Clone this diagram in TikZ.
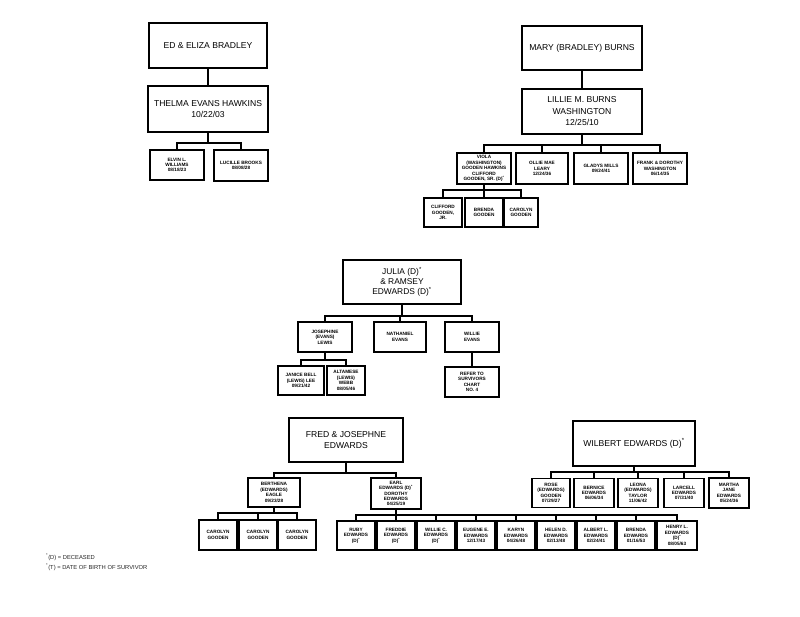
\documentclass[tikz,border=0pt]{standalone}
\usepackage{fontspec}
\setmainfont{Liberation Sans}
\begin{document}
\begin{tikzpicture}[x=1pt,y=-1pt,
  bx/.style={draw=black, line width=1.5pt, fill=white, inner sep=0pt, align=center, text=black},
  big/.style={bx, font=\fontsize{8.6}{11.5}\selectfont},
  mid/.style={bx, font=\fontsize{8.4}{10}\selectfont},
  sm/.style={bx, font=\fontsize{4.7}{5.4}\selectfont\bfseries},
  conn/.style={draw=black, line width=2.2pt},
  note/.style={anchor=west, inner sep=0pt, font=\fontsize{5.8}{6.6}\selectfont, text=black!85}]
\fill[white] (0,0) rectangle (800,617);
\useasboundingbox (0,0) rectangle (800,617);
\def\st{\textsuperscript{*}}
% ---------------- top left
\node[big, minimum width=118, minimum height=45] (edeliza) at (208,45.5) {ED \& ELIZA BRADLEY};
\node[big, minimum width=120, minimum height=46] (thelma) at (208,109) {THELMA EVANS HAWKINS\\10/22/03};
\node[sm, minimum width=54, minimum height=30] (elvin) at (177,165) {ELVIN L.\\WILLIAMS\\08/18/23};
\node[sm, minimum width=54, minimum height=31] (lucille) at (241,165.5) {LUCILLE BROOKS\\08/08/28};
\coordinate (tlbar) at (208,143);
\draw[conn] (edeliza.south) -- (thelma.north);
\draw[conn] (thelma.south) -- (thelma.south |- tlbar);
\foreach \c in {elvin,lucille} \draw[conn] (thelma.south |- tlbar) -| (\c.north);
% ---------------- top right
\node[big, minimum width=120, minimum height=44] (mary) at (582,48) {MARY (BRADLEY) BURNS};
\node[big, minimum width=120, minimum height=45] (lillie) at (582,111.5) {LILLIE M. BURNS\\WASHINGTON\\12/25/10};
\node[sm, minimum width=54, minimum height=31] (viola) at (484,168.5) {VIOLA\\(WASHINGTON)\\GOODEN HAWKINS\\CLIFFORD\\GOODEN, SR. (D)\st};
\node[sm, minimum width=52, minimum height=31] (ollie) at (542,168.5) {OLLIE MAE\\LEARY\\12/24/36};
\node[sm, minimum width=54, minimum height=31] (gladys) at (601,168.5) {GLADYS MILLS\\09/24/41};
\node[sm, minimum width=54, minimum height=31] (frank) at (660,168.5) {FRANK \& DOROTHY\\WASHINGTON\\06/14/35};
\node[sm, minimum width=38, minimum height=29] (cliff) at (443,212.5) {CLIFFORD\\GOODEN,\\JR.};
\node[sm, minimum width=38, minimum height=29] (brenda1) at (484,212.5) {BRENDA\\GOODEN};
\node[sm, minimum width=34, minimum height=29] (carolyn0) at (521,212.5) {CAROLYN\\GOODEN};
\coordinate (trbar) at (582,145);
\coordinate (vibar) at (484,190);
\draw[conn] (mary.south) -- (lillie.north);
\draw[conn] (lillie.south) -- (lillie.south |- trbar);
\foreach \c in {viola,ollie,gladys,frank} \draw[conn] (lillie.south |- trbar) -| (\c.north);
\draw[conn] (viola.south) -- (viola.south |- vibar);
\foreach \c in {cliff,brenda1,carolyn0} \draw[conn] (viola.south |- vibar) -| (\c.north);
% ---------------- middle
\node[mid, minimum width=118, minimum height=44] (julia) at (402,282) {JULIA (D)\st\\\& RAMSEY\\EDWARDS (D)\st};
\node[sm, minimum width=54, minimum height=30] (josephine) at (325,337) {JOSEPHINE\\(EVANS)\\LEWIS};
\node[sm, minimum width=52, minimum height=30] (nathaniel) at (400,337) {NATHANIEL\\EVANS};
\node[sm, minimum width=54, minimum height=30] (willie) at (472,337) {WILLIE\\EVANS};
\node[sm, minimum width=46, minimum height=29] (janice) at (301,380.5) {JANICE BELL\\(LEWIS) LEE\\09/21/42};
\node[sm, minimum width=38, minimum height=29] (altamese) at (346,380.5) {ALTAMESE\\(LEWIS)\\WEBB\\08/05/46};
\node[sm, minimum width=54, minimum height=30] (refer) at (472,382) {REFER TO\\SURVIVORS\\CHART\\NO. 4};
\coordinate (jubar) at (402,316);
\coordinate (josbar) at (325,360);
\draw[conn] (julia.south) -- (julia.south |- jubar);
\foreach \c in {josephine,nathaniel,willie} \draw[conn] (julia.south |- jubar) -| (\c.north);
\draw[conn] (josephine.south) -- (josephine.south |- josbar);
\foreach \c in {janice,altamese} \draw[conn] (josephine.south |- josbar) -| (\c.north);
\draw[conn] (willie.south) -- (refer.north);
% ---------------- bottom left
\node[big, minimum width=114, minimum height=44] (fred) at (346,440) {FRED \& JOSEPHNE\\EDWARDS};
\node[sm, minimum width=52, minimum height=29] (berthena) at (274,492.5) {BERTHENA\\(EDWARDS)\\EAGLE\\09/23/28};
\node[sm, minimum width=50, minimum height=31] (earl) at (396,493.5) {EARL\\EDWARDS (D)\st\\DOROTHY\\EDWARDS\\04/25/19};
\node[sm, minimum width=38, minimum height=30] (car1) at (218,535) {CAROLYN\\GOODEN};
\node[sm, minimum width=38, minimum height=30] (car2) at (258,535) {CAROLYN\\GOODEN};
\node[sm, minimum width=38, minimum height=30] (car3) at (297,535) {CAROLYN\\GOODEN};
\node[sm, minimum width=38, minimum height=29] (ruby) at (356,535.5) {RUBY\\EDWARDS\\(D)\st};
\node[sm, minimum width=38, minimum height=29] (freddie) at (396,535.5) {FREDDIE\\EDWARDS\\(D)\st};
\node[sm, minimum width=38, minimum height=29] (williec) at (436,535.5) {WILLIE C.\\EDWARDS\\(D)\st};
\node[sm, minimum width=38, minimum height=29] (eugene) at (476,535.5) {EUGENE E.\\EDWARDS\\12/17/43};
\node[sm, minimum width=38, minimum height=29] (karyn) at (516,535.5) {KARYN\\EDWARDS\\04/26/48};
\node[sm, minimum width=38, minimum height=29] (helen) at (556,535.5) {HELEN D.\\EDWARDS\\02/13/48};
\node[sm, minimum width=38, minimum height=29] (albert) at (596,535.5) {ALBERT L.\\EDWARDS\\02/24/41};
\node[sm, minimum width=38, minimum height=29] (brenda2) at (636,535.5) {BRENDA\\EDWARDS\\01/16/53};
\node[sm, minimum width=40, minimum height=29] (henry) at (677,535.5) {HENRY L.\\EDWARDS\\(D)\st\\08/05/63};
\coordinate (frbar) at (346,473);
\coordinate (bebar) at (274,513);
\coordinate (eabar) at (396,515);
\draw[conn] (fred.south) -- (fred.south |- frbar);
\foreach \c in {berthena,earl} \draw[conn] (fred.south |- frbar) -| (\c.north);
\draw[conn] (berthena.south) -- (berthena.south |- bebar);
\foreach \c in {car1,car2,car3} \draw[conn] (berthena.south |- bebar) -| (\c.north);
\draw[conn] (earl.south) -- (earl.south |- eabar);
\foreach \c in {ruby,freddie,williec,eugene,karyn,helen,albert,brenda2,henry} \draw[conn] (earl.south |- eabar) -| (\c.north);
% ---------------- bottom right
\node[big, minimum width=122, minimum height=45] (wilbert) at (634,443.5) {WILBERT EDWARDS (D)\st};
\node[sm, minimum width=38, minimum height=29] (rose) at (551,493) {ROSE\\(EDWARDS)\\GOODEN\\07/29/27};
\node[sm, minimum width=40, minimum height=29] (bernice) at (594,493) {BERNICE\\EDWARDS\\06/06/34};
\node[sm, minimum width=40, minimum height=29] (leona) at (638,493) {LEONA\\(EDWARDS)\\TAYLOR\\11/06/42};
\node[sm, minimum width=40, minimum height=29] (larcell) at (684,493) {LARCELL\\EDWARDS\\07/31/40};
\node[sm, minimum width=40, minimum height=30] (martha) at (729,493) {MARTHA\\JANE\\EDWARDS\\05/24/36};
\coordinate (wibar) at (634,472);
\draw[conn] (wilbert.south) -- (wilbert.south |- wibar);
\foreach \c in {rose,bernice,leona,larcell,martha} \draw[conn] (wilbert.south |- wibar) -| (\c.north);
% ---------------- notes
\node[note] (n1) at (46,557) {\st(D) = DECEASED};
\node[note] (n2) at (46,567) {\st(T) = DATE OF BIRTH OF SURVIVOR};
\end{tikzpicture}
\end{document}
